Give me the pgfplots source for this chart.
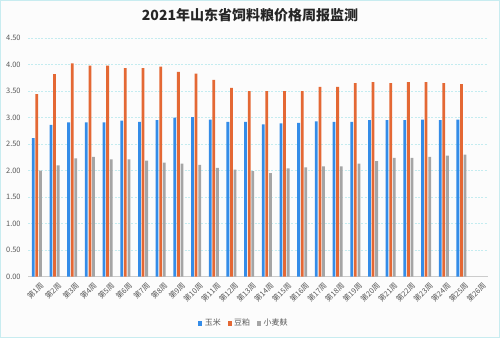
\documentclass[border=0pt]{standalone}
\usepackage{pgfplots}
\pgfplotsset{compat=1.18}
\usepackage{fontspec}
\setmainfont{Noto Sans CJK SC}
\definecolor{cBlue}{RGB}{52,140,232}
\definecolor{cOrange}{RGB}{228,104,52}
\definecolor{cGray}{RGB}{165,165,165}
\definecolor{cGrid}{RGB}{196,236,240}
\definecolor{cTick}{RGB}{89,89,89}
\definecolor{cBg}{RGB}{252,252,252}
\definecolor{cBorder}{RGB}{200,236,240}
\pgfplotstableread{
wk corn soy wheat
1 2.61 3.44 2.00
2 2.86 3.82 2.10
3 2.91 4.02 2.23
4 2.91 3.98 2.26
5 2.91 3.98 2.21
6 2.94 3.93 2.21
7 2.92 3.93 2.19
8 2.95 3.96 2.15
9 3.00 3.86 2.13
10 3.01 3.83 2.11
11 2.96 3.71 2.05
12 2.92 3.56 2.02
13 2.92 3.50 1.99
14 2.87 3.50 1.95
15 2.89 3.50 2.04
16 2.90 3.50 2.06
17 2.93 3.58 2.08
18 2.92 3.58 2.08
19 2.92 3.65 2.13
20 2.95 3.67 2.18
21 2.95 3.65 2.24
22 2.95 3.67 2.24
23 2.96 3.67 2.26
24 2.95 3.65 2.28
25 2.96 3.63 2.30
}\datatable
\begin{document}
\begin{tikzpicture}
\path[use as bounding box] (0pt,0pt) rectangle (375pt,253.5pt);
\draw[cBorder,fill=cBg,line width=0.8pt] (0.4pt,0.4pt) rectangle (374.6pt,253.1pt);
\node[font=\bfseries\fontsize{10.5}{12}\selectfont, text=black!85] at (187.5pt,242pt) {2021年山东省饲料粮价格周报监测};
\begin{axis}[
  at={(21pt,46pt)}, anchor=south west,
  scale only axis, width=345pt, height=179pt,
  xmin=0.5, xmax=26.5, ymin=0, ymax=4.5,
  ytick={0,0.5,...,4.5},
  xtick={1,...,26},
  xticklabels={第1周,第2周,第3周,第4周,第5周,第6周,第7周,第8周,第9周,第10周,第11周,第12周,第13周,第14周,第15周,第16周,第17周,第18周,第19周,第20周,第21周,第22周,第23周,第24周,第25周,第26周},
  xticklabel style={rotate=45, anchor=north east, font=\fontsize{5.6}{6}\selectfont, text=cTick, inner sep=1pt, yshift=-3pt},
  yticklabel style={font=\fontsize{5.6}{6}\selectfont, text=cTick, /pgf/number format/fixed, /pgf/number format/fixed zerofill, /pgf/number format/precision=2, xshift=-2pt},
  /pgf/number format/assume math mode=true,
  major tick length=0pt,
  axis x line*=bottom, axis y line*=left,
  x axis line style={draw=black!20, -},
  y axis line style={draw=none},
  ymajorgrids, grid style={cGrid, dash pattern=on 1.5pt off 1pt, line width=0.6pt},
  ybar=0.6pt, bar width=2.1pt,
  legend style={at={(0.47,-0.195)}, anchor=center, draw=none, fill=none, font=\fontsize{6}{7}\selectfont, text=cTick, legend columns=3, /tikz/every even column/.append style={column sep=3pt}},
  legend image code/.code={\fill[#1] (0pt,-1.8pt) rectangle (3pt,1.8pt);},
]
\addplot[fill=cBlue, draw=none] table[x=wk, y=corn] {\datatable};
\addplot[fill=cOrange, draw=none] table[x=wk, y=soy] {\datatable};
\addplot[fill=cGray, draw=none] table[x=wk, y=wheat] {\datatable};
\legend{玉米,豆粕,小麦麸}
\end{axis}
\end{tikzpicture}
\end{document}
